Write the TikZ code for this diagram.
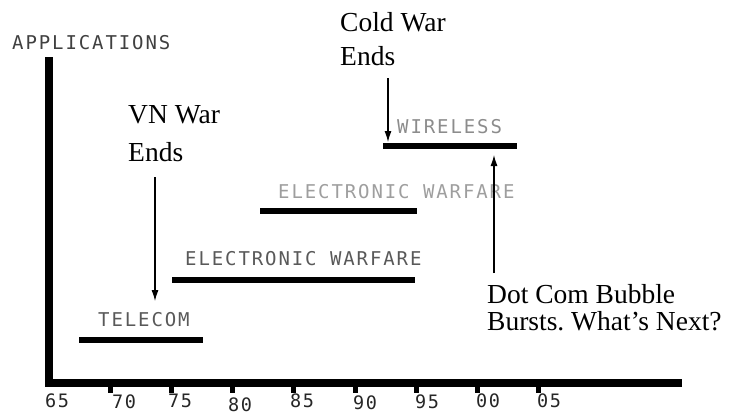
\documentclass[tikz,border=0pt]{standalone}
\usepackage{fontspec}
\setmainfont{Liberation Serif}
\newfontfamily\plotfont[LetterSpace=10]{DejaVu Sans Mono}
\newfontfamily\plotnum[LetterSpace=8]{DejaVu Sans Mono}
\usetikzlibrary{arrows.meta}
\begin{document}
\begin{tikzpicture}[x=1pt,y=-1pt,
  axisline/.style={line width=8pt, line join=miter},
  barline/.style={line width=6.5pt},
  tickmark/.style={line width=5pt},
  plottext/.style={inner sep=0pt, anchor=west, font=\plotfont\fontsize{19}{19}\selectfont},
  ticklabel/.style={inner sep=0pt, anchor=west, text=black!85, font=\plotnum\fontsize{18.5}{18.5}\selectfont},
  serif/.style={inner sep=0pt, anchor=west, font=\fontsize{27.5}{30}\selectfont},
  arr/.style={line width=1.1pt, -{Latex[length=11pt,width=7pt]}}]
\useasboundingbox (0,0) rectangle (732,415);
% axes
\coordinate (top) at (49,57);
\coordinate (origin) at (49,383);
\coordinate (xend) at (682,383);
\draw[axisline] (top) -- (origin) -- (xend);
\node[plottext, text=black!75] (ylabel) at (12,43) {APPLICATIONS};
% ticks
\foreach \k in {1,...,8} {
  \draw[tickmark] (49+61.2*\k,381) -- (49+61.2*\k,393);
}
\node[ticklabel] (t65) at (45,401) {65};
\node[ticklabel] (t70) at (112,402) {70};
\node[ticklabel] (t75) at (168,401) {75};
\node[ticklabel] (t80) at (228,404.5) {80};
\node[ticklabel] (t85) at (290,401) {85};
\node[ticklabel] (t90) at (353,403) {90};
\node[ticklabel] (t95) at (415,402) {95};
\node[ticklabel] (t00) at (476,401) {00};
\node[ticklabel] (t05) at (537,401) {05};
% bars
\coordinate (telA) at (79,340); \coordinate (telB) at (203,340);
\draw[barline] (telA) -- (telB);
\node[plottext, text=black!65] (tel) at (98,320) {TELECOM};
\coordinate (ewA) at (172,280); \coordinate (ewB) at (415,280);
\draw[barline] (ewA) -- (ewB);
\node[plottext, text=black!65] (ew1) at (185,259) {ELECTRONIC WARFARE};
\coordinate (ew2A) at (260,211); \coordinate (ew2B) at (417,211);
\draw[barline] (ew2A) -- (ew2B);
\node[plottext, text=black!38] (ew2) at (278,192) {ELECTRONIC WARFARE};
\coordinate (wlA) at (383,146); \coordinate (wlB) at (517,146);
\draw[barline] (wlA) -- (wlB);
\node[plottext, text=black!45] (wl) at (397,127) {WIRELESS};
% events
\node[serif] (cw1) at (340,22) {Cold War};
\node[serif] (cw2) at (340,56) {Ends};
\coordinate (cwS) at (388,78); \coordinate (cwE) at (388,142);
\draw[arr] (cwS) -- (cwE);
\node[serif] (vn1) at (128,115) {VN War};
\node[serif] (vn2) at (128,152) {Ends};
\coordinate (vnS) at (155,177); \coordinate (vnE) at (155,301);
\draw[arr] (vnS) -- (vnE);
\node[serif] (dc1) at (487,294) {Dot Com Bubble};
\node[serif] (dc2) at (487,321) {Bursts.\ What’s Next?};
\coordinate (dcS) at (494,273); \coordinate (dcE) at (494,155);
\draw[arr] (dcS) -- (dcE);
\end{tikzpicture}
\end{document}
